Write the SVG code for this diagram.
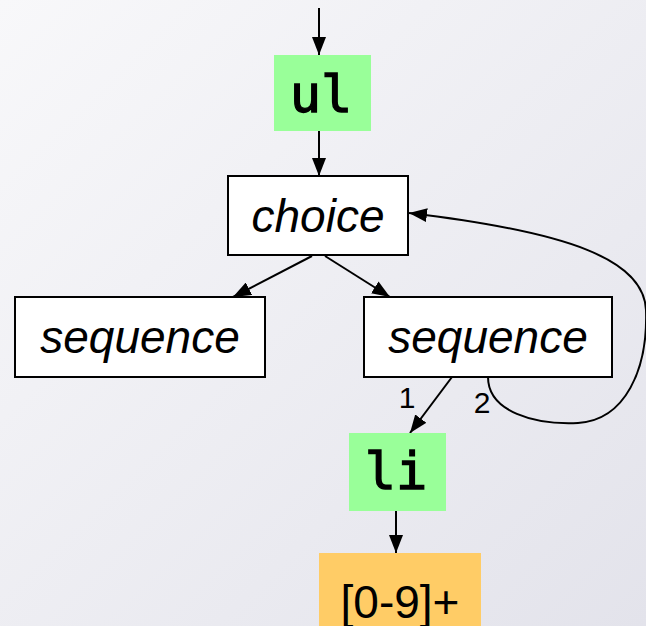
<svg xmlns="http://www.w3.org/2000/svg" width="646" height="626" viewBox="0 0 646 626">
<defs>
<linearGradient id="bg" x1="0" y1="0" x2="1" y2="1">
<stop offset="0" stop-color="#f8f8fa"/>
<stop offset="1" stop-color="#e3e3eb"/>
</linearGradient>
<marker id="ah" viewBox="0 0 18 14" refX="18" refY="7" markerWidth="18" markerHeight="14" markerUnits="userSpaceOnUse" orient="auto">
<path d="M0,0 L18,7 L0,14 Z" fill="#000"/>
</marker>
<style>
.box{fill:#fff;stroke:#000;stroke-width:2}
.el{fill:#99ff99}
.lit{fill:#ffcc66}
.it{font-family:"Liberation Sans",Arial,sans-serif;font-style:italic;font-size:46px;text-anchor:middle}
.mono{font-family:"DejaVu Sans Mono",monospace;font-size:52px;text-anchor:middle;stroke:#000;stroke-width:1.3}
.reg{font-family:"Liberation Sans",Arial,sans-serif;font-size:46px;text-anchor:middle}
.lbl{font-family:"Liberation Sans",Arial,sans-serif;font-size:30px;text-anchor:middle}
.c{fill:none;stroke:#000;stroke-width:2;marker-end:url(#ah)}
</style>
</defs>
<rect width="646" height="626" fill="url(#bg)"/>
<g id="connectors">
<line class="c" x1="319" y1="8" x2="319" y2="55"/>
<line class="c" x1="319" y1="131" x2="319" y2="176"/>
<line class="c" x1="312" y1="256" x2="233" y2="297"/>
<line class="c" x1="325" y1="256" x2="390" y2="297"/>
<line class="c" x1="452" y1="377" x2="410" y2="433"/>
<path class="c" d="M488,377 C488,412 535,425 578,423 C625,420 648,370 646,310 C644,260 570,232 409,213"/>
<line class="c" x1="396" y1="511" x2="396" y2="553"/>
<text class="lbl" x="407" y="408">1</text>
<text class="lbl" x="482" y="413">2</text>
</g>
<g id="ul">
<rect class="el" x="274" y="55" width="97" height="76"/>
<text class="mono" x="321" y="112">ul</text>
</g>
<g id="choice">
<rect class="box" x="228" y="176" width="180" height="79"/>
<text class="it" x="318" y="232">choice</text>
</g>
<g id="seq1">
<rect class="box" x="15" y="297" width="250" height="80"/>
<text class="it" x="140" y="353">sequence</text>
</g>
<g id="seq2">
<rect class="box" x="364" y="297" width="248" height="80"/>
<text class="it" x="488" y="353">sequence</text>
</g>
<g id="li">
<rect class="el" x="349" y="433" width="97" height="78"/>
<text class="mono" x="396" y="489">li</text>
</g>
<g id="num">
<rect class="lit" x="319" y="553" width="162" height="73"/>
<text class="reg" x="400" y="618">[0-9]+</text>
</g>
</svg>
